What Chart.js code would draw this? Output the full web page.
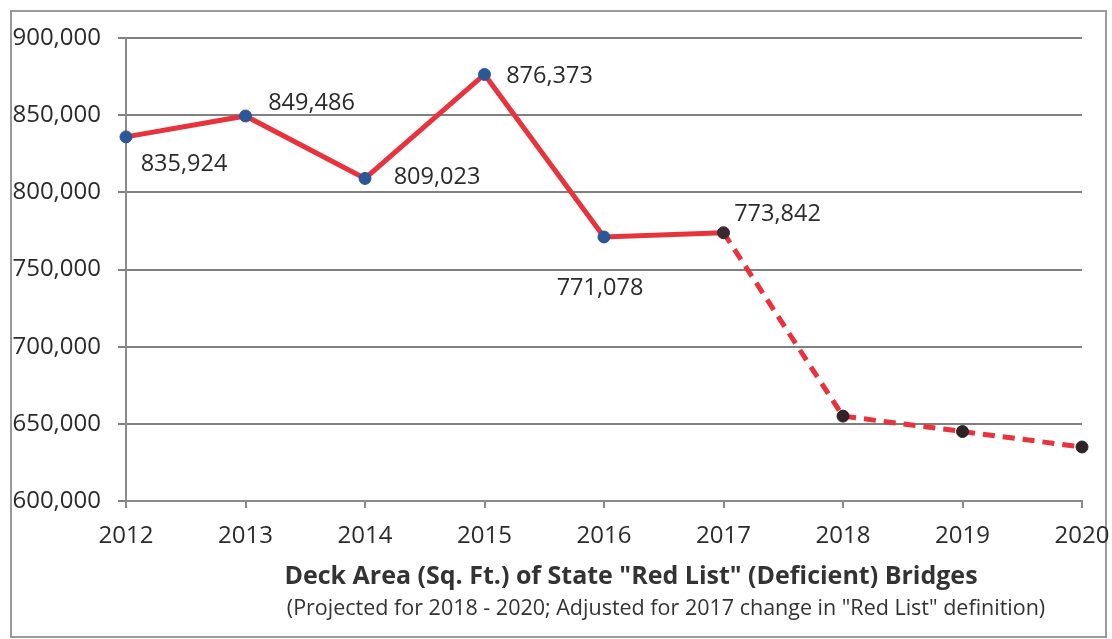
<!DOCTYPE html>
<html>
<head>
<meta charset="utf-8">
<script src="https://cdn.jsdelivr.net/npm/chart.js@4"></script>
<style>
  html, body { margin: 0; padding: 0; background: #fff; }
  #wrap { width: 1112px; height: 639px; }
</style>
</head>
<body>
<div id="wrap"><canvas id="myChart" width="1112" height="639"></canvas></div>
<script>
//data block
const years = ['2012', '2013', '2014', '2015', '2016', '2017', '2018', '2019', '2020'];
const deckArea = [835924, 849486, 809023, 876373, 771078, 773842, 655000, 645000, 635000];
const shownLabels = ['835,924', '849,486', '809,023', '876,373', '771,078', '773,842', '', '', ''];
const yTicks = [600000, 650000, 700000, 750000, 800000, 850000, 900000];
const projectedFrom = 5; // segments after 2017 are projections

// label offsets from each point (style only)
const labelOffsets = [[58, 27], [66, -13], [72, -1], [65, 2], [-4, 51], [54, -18], [0, 0], [0, 0], [0, 0]];
const pointColors = ['#2b5797', '#2b5797', '#2b5797', '#2b5797', '#2b5797', '#3a2a2e', '#2e2326', '#2e2326', '#2e2326'];

const FONT = '"Open Sans", sans-serif';

//frame + bottom titles
const framePlugin = {
  id: 'framePlugin',
  beforeDraw(chart) {
    const {ctx} = chart;
    ctx.save();
    ctx.fillStyle = '#fff';
    ctx.fillRect(0, 0, chart.width, chart.height);
    ctx.strokeStyle = '#9a9a9a';
    ctx.lineWidth = 2;
    ctx.strokeRect(11, 11, 1095, 626);
    ctx.restore();
  },
  afterDraw(chart) {
    const {ctx} = chart;
    ctx.save();
    ctx.textAlign = 'center';
    ctx.textBaseline = 'middle';
    ctx.fillStyle = '#333';
    ctx.font = `bold 25px ${FONT}`;
    ctx.fillText('Deck Area (Sq. Ft.) of State "Red List" (Deficient) Bridges', 631, 577);
    ctx.font = `21.5px ${FONT}`;
    ctx.fillText('(Projected for 2018 - 2020; Adjusted for 2017 change in "Red List" definition)', 666, 609);
    ctx.restore();
  }
};

//value labels
const valueLabels = {
  id: 'valueLabels',
  afterDatasetsDraw(chart) {
    const {ctx} = chart;
    const meta = chart.getDatasetMeta(0);
    ctx.save();
    ctx.font = `23.5px ${FONT}`;
    ctx.fillStyle = '#2b2b2b';
    ctx.textAlign = 'center';
    ctx.textBaseline = 'middle';
    meta.data.forEach((pt, i) => {
      if (!shownLabels[i]) return;
      ctx.fillText(shownLabels[i], pt.x + labelOffsets[i][0], pt.y + labelOffsets[i][1]);
    });
    ctx.restore();
  }
};

const data = {
  labels: years,
  datasets: [{
    data: deckArea,
    borderColor: '#e8323c',
    borderWidth: 5,
    pointRadius: 6,
    pointHoverRadius: 6,
    pointBackgroundColor: pointColors,
    pointBorderColor: pointColors,
    pointBorderWidth: 1,
    tension: 0,
    segment: {
      borderDash: c => c.p0DataIndex >= projectedFrom ? [12, 8] : undefined
    }
  }]
};

const options = {
  responsive: false,
  animation: false,
  layout: { padding: { top: 38, right: 30, bottom: 0, left: 0 } },
  plugins: {
    legend: { display: false },
    tooltip: { enabled: false }
  },
  scales: {
    x: {
      offset: false,
      grid: { display: true, drawOnChartArea: false, drawTicks: true, tickLength: 7, color: '#8a8a8a', lineWidth: 2 },
      border: { display: true, color: '#8a8a8a', width: 2 },
      ticks: { font: { family: FONT, size: 24 }, color: '#2b2b2b', padding: 14, maxRotation: 0 },
      afterFit(scale) {
        scale.height = 138;
        scale.paddingLeft = 0;
        scale.paddingRight = 0;
      }
    },
    y: {
      min: 600000,
      max: 900000,
      afterBuildTicks(scale) { scale.ticks = yTicks.map(v => ({ value: v })); },
      grid: { color: '#808080', lineWidth: 2, tickLength: 8 },
      border: { display: true, color: '#8a8a8a', width: 2 },
      ticks: {
        font: { family: FONT, size: 24 },
        color: '#2b2b2b',
        padding: 17,
        callback: v => v.toLocaleString('en-US')
      },
      afterFit(scale) { scale.width = 126; }
    }
  }
};

const myChart = new Chart(document.getElementById('myChart'), {
  type: 'line',
  data,
  options,
  plugins: [framePlugin, valueLabels]
});
</script>
</body>
</html>
